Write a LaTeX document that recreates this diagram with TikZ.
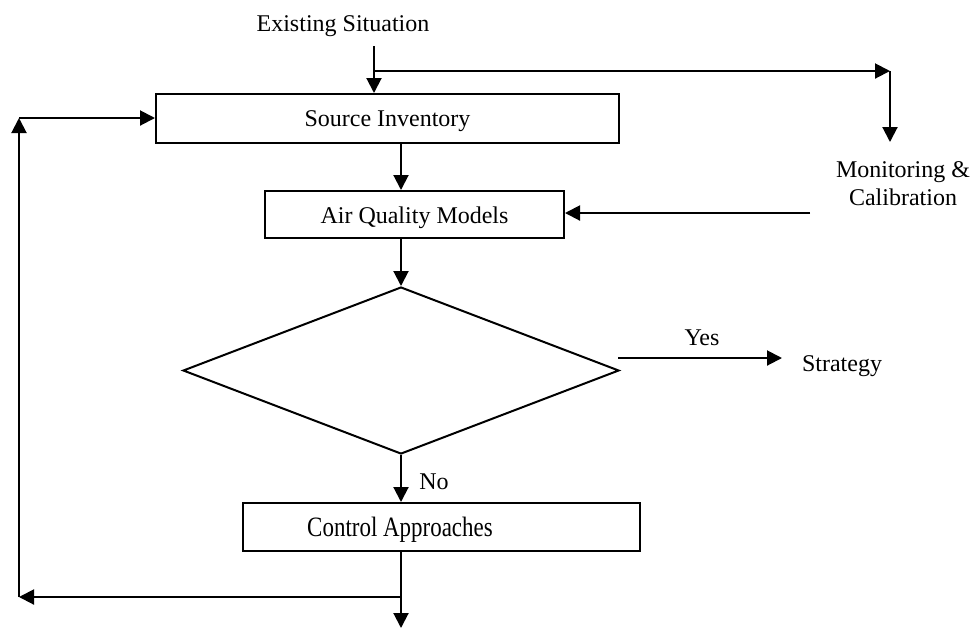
\documentclass[tikz,border=0pt]{standalone}
\usepackage{fontspec}
\setmainfont{Liberation Serif}
\newfontfamily\narrowserif[FakeStretch=0.82]{Liberation Serif}
\usetikzlibrary{arrows.meta}
\usetikzlibrary{shapes.geometric}

\begin{document}
\begin{tikzpicture}[
            x=0.5pt, y=-0.5pt,
            flowline/.style={color=black, line width=1pt},
            arrowline/.style={flowline, -{Triangle[length=7.5pt, width=7.5pt]}},
            stepbox/.style={draw, flowline, rectangle, inner sep=0pt},
            plaintext/.style={align=center, yshift=-1.5pt, font=\fontsize{12}{14}\selectfont}
        ]
            \useasboundingbox (0, 0) rectangle (976, 629);

            % boxes
            \node[stepbox, minimum width=231.5pt, minimum height=24.5pt] (src) at (387.5, 118.5) {};
            \node[plaintext] (srctext) at (387.5, 118.5) {Source Inventory};
            \node[stepbox, minimum width=149.5pt, minimum height=23.5pt] (aqm) at (414.5, 214.5) {};
            \node[plaintext] (aqmtext) at (414.5, 214.5) {Air Quality Models};
            \node[draw, flowline, diamond, inner sep=0pt, minimum width=218pt, minimum height=83.5pt] (dia) at (401, 370.5) {};
            \node[stepbox, minimum width=198.5pt, minimum height=24pt] (ctrl) at (441.5, 527) {};
            \node[plaintext, font=\narrowserif\fontsize{14}{16}\selectfont] (ctrltext) at (400, 527) {Control Approaches};

            % free texts
            \node[plaintext] (exist) at (343, 23) {Existing Situation};
            \node[plaintext] (mon) at (903, 181) {Monitoring \&\\Calibration};
            \node[plaintext] (strat) at (842, 363) {Strategy};
            \node[plaintext] (yes) at (702, 335) {Yes};
            \node[plaintext] (no) at (434, 479) {No};

            % end points
            \coordinate (start) at (374, 46);
            \coordinate (split) at (374, 71);
            \coordinate (moncorner) at (890, 71);
            \coordinate (monend) at (890, 142);
            \coordinate (monout) at (810, 213);
            \coordinate (yesfrom) at (618, 358);
            \coordinate (yesto) at (782, 358);
            \coordinate (back) at (401, 597);
            \coordinate (backend) at (19, 597);
            \coordinate (loopup) at (19, 118);
            \coordinate (bottom) at (401, 628);

            % main flow
            \draw[arrowline] (start) -- (start |- src.north);
            \draw[arrowline] (split) -- (moncorner);
            \draw[arrowline] (moncorner) -- (monend);
            \draw[arrowline] (src.south -| dia) -- (aqm.north -| dia);
            \draw[arrowline] (monout) -- (aqm.east |- monout);
            \draw[arrowline] (aqm.south -| dia) -- (dia.north);
            \draw[arrowline] (yesfrom) -- (yesto);
            \draw[arrowline] (dia.south) -- (ctrl.north -| dia);
            \draw[arrowline] (ctrl.south -| dia) -- (bottom);

            % loop back
            \draw[arrowline] (back) -- (backend);
            \draw[arrowline] (backend) -- (loopup);
            \draw[arrowline] (loopup) -- (src.west |- loopup);

        \end{tikzpicture}
\end{document}
